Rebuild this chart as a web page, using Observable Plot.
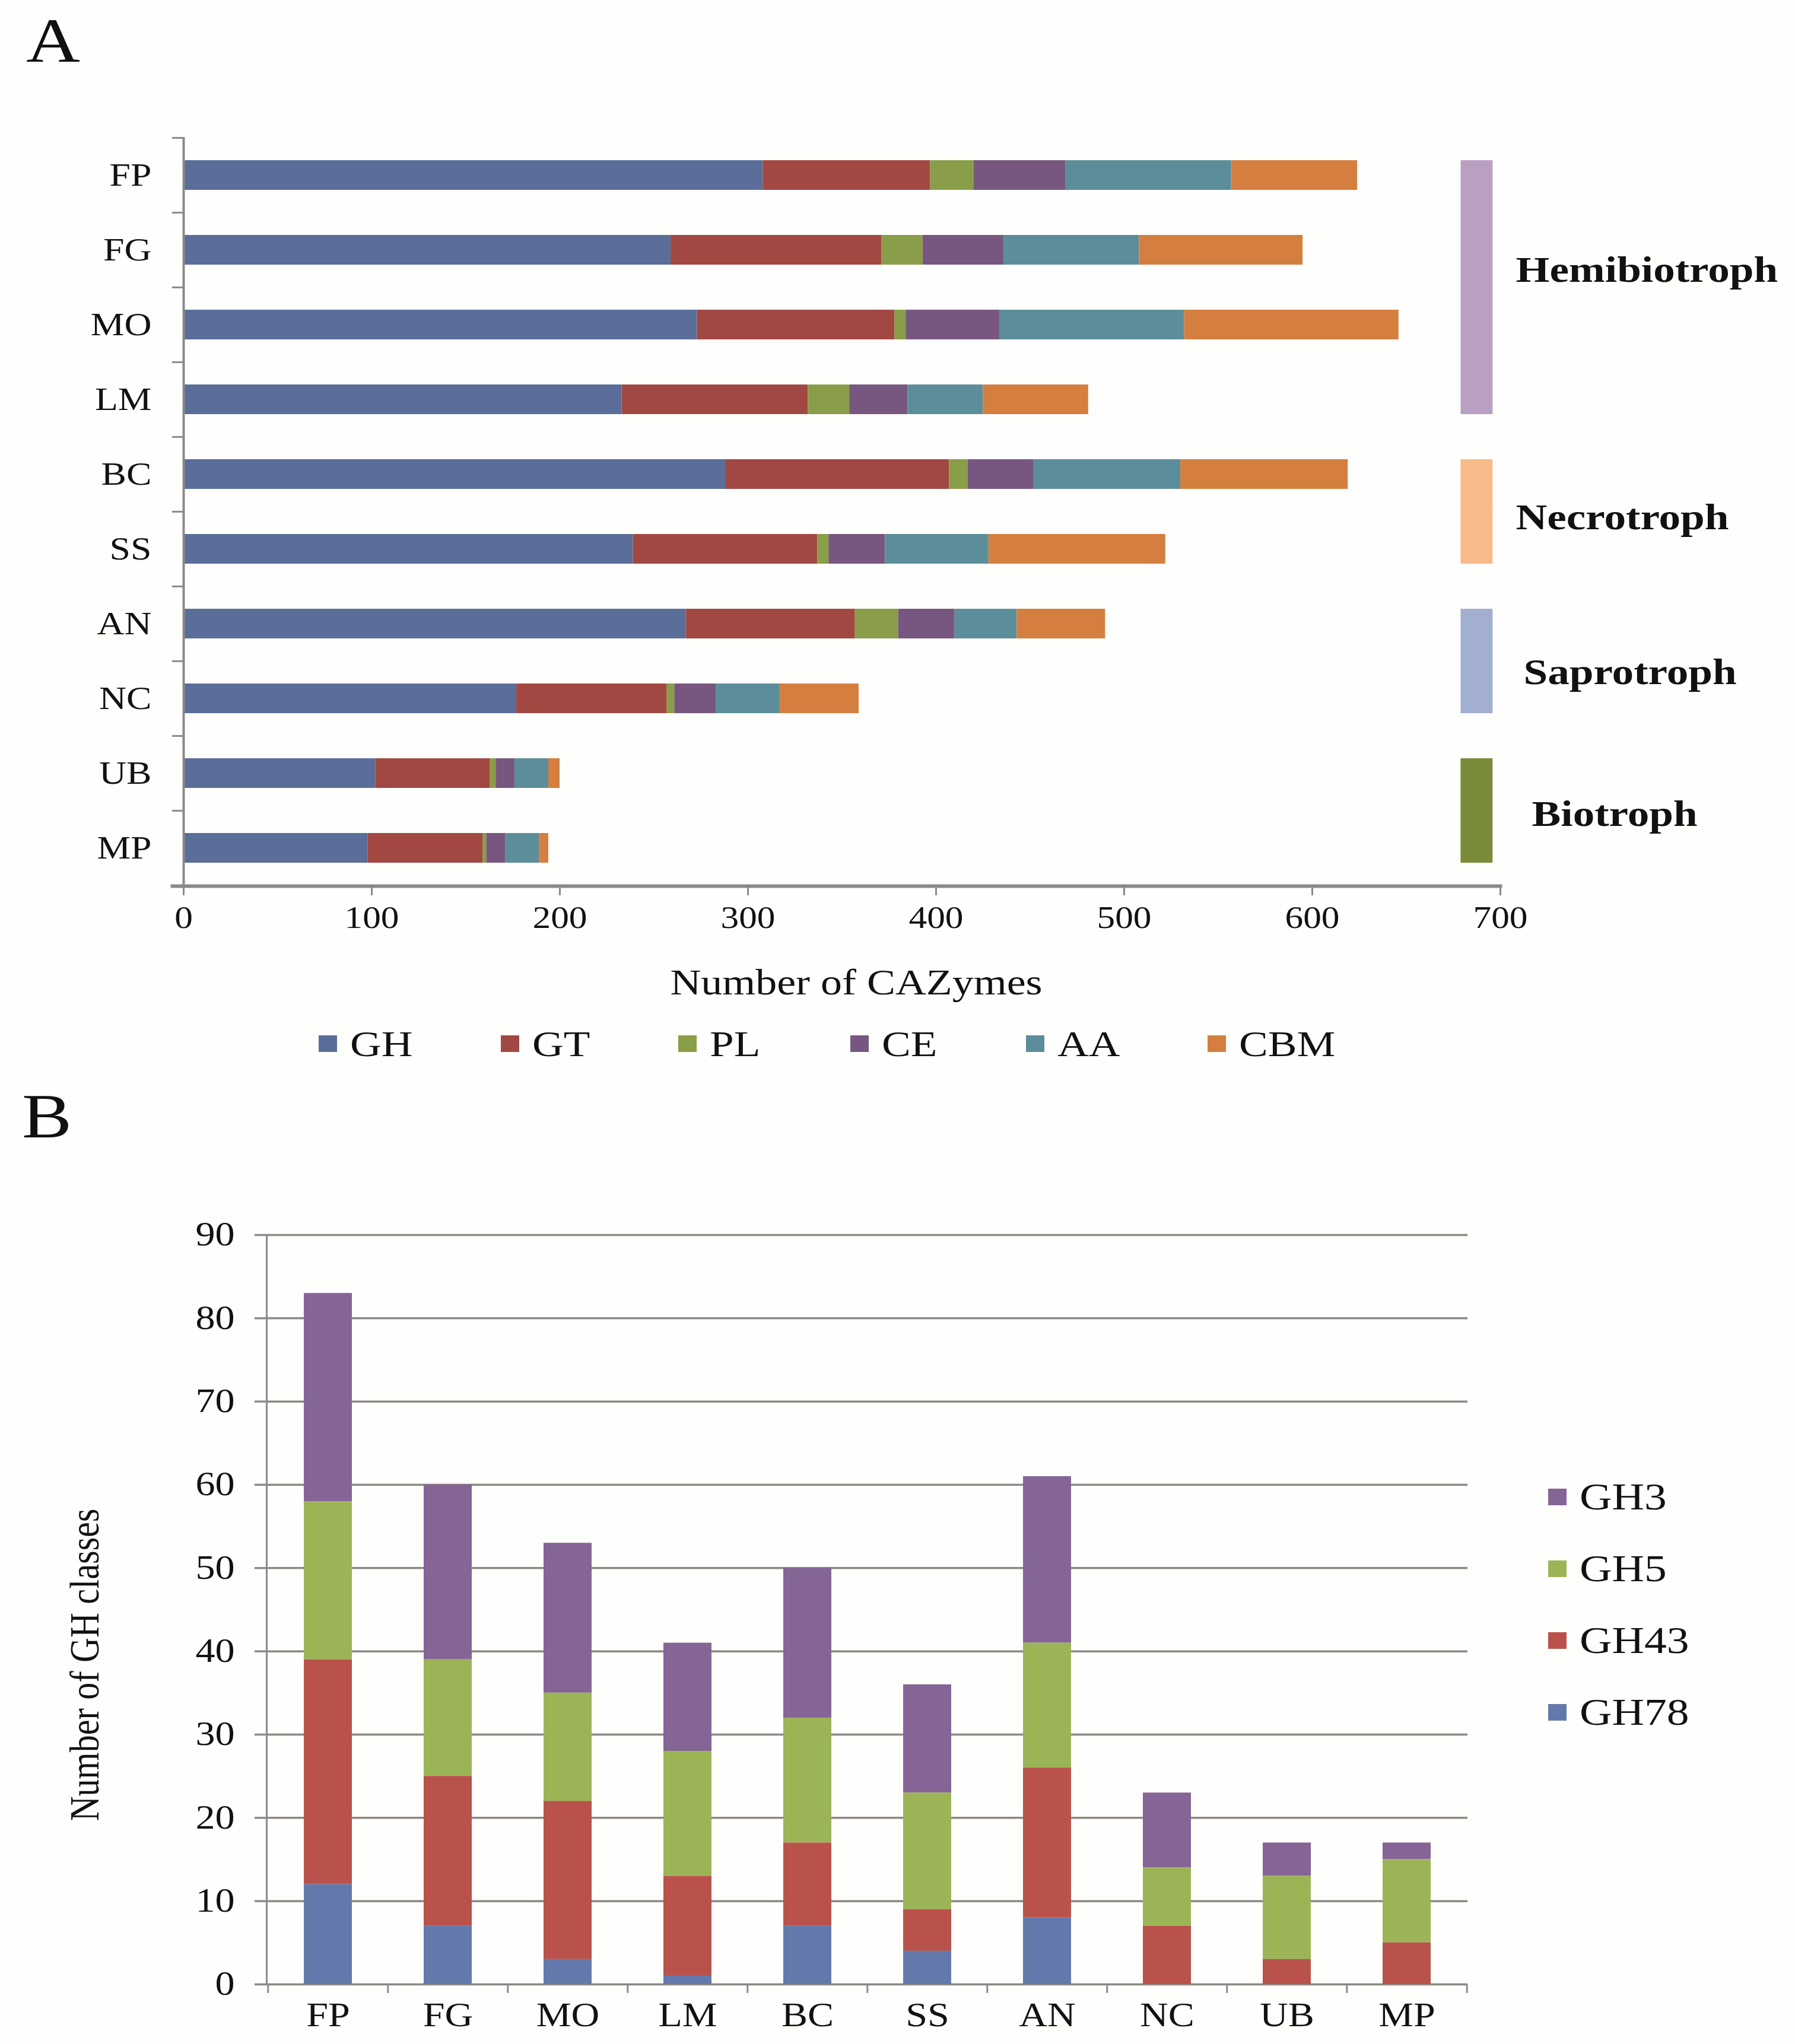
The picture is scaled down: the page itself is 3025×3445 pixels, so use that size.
<!DOCTYPE html>
<html><head><meta charset="utf-8">
<script src="https://cdn.jsdelivr.net/npm/d3@7"></script>
<script src="https://cdn.jsdelivr.net/npm/@observablehq/plot@0.6"></script>
<style>
html,body{margin:0;padding:0;background:#fefefc;}
#page{position:relative;width:3025px;height:3445px;background:#fefefc;font-family:"Liberation Serif","Times New Roman",serif;color:#111;overflow:hidden;}
#page svg{position:absolute;left:0;}
.abs{position:absolute;white-space:nowrap;line-height:1;}
.sx{display:inline-block;transform-origin:0 50%;transform:scaleX(1.18);}
.legA{position:absolute;left:537px;top:1728px;display:flex;align-items:center;font-size:62px;line-height:62px;}
.legA .item{display:flex;align-items:center;margin-right:164px;}
.sw{display:inline-block;width:31px;height:28px;margin-right:22px;}
.legB{position:absolute;left:2609px;top:2462px;font-size:64px;}
.legB .item{display:flex;align-items:center;height:121px;line-height:121px;}
</style></head><body><div id="page"></div>
<script>
// ---------- Panel A data ----------
const catsA = ["FP","FG","MO","LM","BC","SS","AN","NC","UB","MP"];
const seriesA = ["GH","GT","PL","CE","AA","CBM"];
const GH  = [308,259,273,233,288,239,267,177,102,98];
const GT  = [89,112,105,99,119,98,90,80,61,61];
const PL  = [23,22,6,22,10,6,23,4,3,2];
const CE  = [49,43,50,31,35,30,30,22,10,10];
const AA  = [88,72,98,40,78,55,33,34,18,18];
const CBM = [67,87,114,56,89,94,47,42,6,5];
const xTicksA = [0,100,200,300,400,500,600,700];
const groupNames = ["Hemibiotroph","Necrotroph","Saprotroph","Biotroph"];
const groupMembers = [["FP","FG","MO","LM"],["BC","SS"],["AN","NC"],["UB","MP"]];

// ---------- Panel B data ----------
const catsB = ["FP","FG","MO","LM","BC","SS","AN","NC","UB","MP"];
const seriesB = ["GH3","GH5","GH43","GH78"];
const GH3  = [25,21,18,13,18,13,20,9,4,2];
const GH5  = [19,14,13,15,15,14,15,7,10,10];
const GH43 = [27,18,19,12,10,5,18,7,3,5];
const GH78 = [12,7,3,1,7,4,8,0,0,0];
const yTicksB = [0,10,20,30,40,50,60,70,80,90];
const stackOrderB = ["GH78","GH43","GH5","GH3"];

// ---------- styles ----------
const colorsA = ["#5a6e99","#a24843","#8a9d48","#77577f","#5b8e9a","#d47f3f"];
const colorsB = ["#856496","#9bb556","#ba524c","#6479ab"];
const groupColors = ["#b9a0c3","#f8ba88","#a3afd0","#7a8b39"];
const groupBarX = [679, 696];
const groupLabelDx = [26, 26, 39, 53];
const groupLabelAdj = [-30, 10, 19, 6];
const axisGray = "#8a8a8a";
const gridGray = "#8c8884";
const textCol = "#111";
const font = "Liberation Serif";
const stretch = 1.18;

const page = document.getElementById("page");

// ---------- Panel A ----------
const A = {top:0, height:1640, mL:309, mR:497, mT:231, mB:147};
const stepA = (A.height - A.mT - A.mB) / catsA.length;
const valuesA = [GH, GT, PL, CE, AA, CBM];
const longA = catsA.flatMap((c,i) => seriesA.map((s,j) => ({cat:c, series:s, value: valuesA[j][i]})));
const halfGap = stepA*0.6/2 + 0.5;

const groupMarks = groupNames.flatMap((g, gi) => {
  const mem = groupMembers[gi];
  const rows = mem.map((c,k) => ({cat:c, pos: k===0 ? "first" : (k===mem.length-1 ? "last" : "mid")}));
  const bars = ["first","mid","last"].map(pos => Plot.barX(rows.filter(d => d.pos===pos), {
    y: "cat", x1: groupBarX[0], x2: groupBarX[1], fill: groupColors[gi],
    insetTop: pos==="first" ? 0 : -halfGap, insetBottom: pos==="last" ? 0 : -halfGap
  }));
  const label = Plot.text([g], {
    x: () => 700, y: () => mem[0], text: d => d,
    dx: groupLabelDx[gi], dy: (mem.length-1)*stepA/2 + groupLabelAdj[gi],
    textAnchor: "start", fontWeight: "bold", fontSize: 62, fill: textCol, fontFamily: font
  });
  return [...bars, label];
});

const plotA = Plot.plot({
  width: 3025, height: A.height,
  marginLeft: A.mL, marginRight: A.mR, marginTop: A.mT, marginBottom: A.mB,
  style: {background: "transparent", fontFamily: font, fontSize: "52px", color: textCol},
  x: {domain: [0,700], label: null},
  y: {domain: catsA, paddingInner: 0.6, paddingOuter: 0.3, align: 0.5, label: null},
  color: {domain: seriesA, range: colorsA},
  marks: [
    Plot.barX(longA, {y: "cat", x: "value", fill: "series", order: seriesA}),
    ...groupMarks,
    Plot.ruleX([0], {stroke: axisGray, strokeWidth: 4}),
    Plot.frame({anchor: "bottom", stroke: axisGray, strokeWidth: 6, insetLeft: -19}),
    Plot.axisX(xTicksA, {tickSize: 16, tickPadding: 18, fontSize: 52, stroke: axisGray, strokeWidth: 3, fill: textCol, label: null}),
    Plot.axisY(catsA, {tickSize: 0, tickPadding: 54, fontSize: 54, fill: textCol, label: null}),
    Plot.axisY(catsA, {tickSize: 19, dy: -stepA/2, tickFormat: () => "", stroke: axisGray, strokeWidth: 3, label: null})
  ]
});
plotA.style.top = A.top + "px";
page.appendChild(plotA);

// ---------- Panel B ----------
const B = {top:1950, height:1495, mL:449, mR:552, mT:131, mB:101};
const stepB = (3025 - B.mL - B.mR) / catsB.length;
const valuesB = {GH3, GH5, GH43, GH78};
const longB = catsB.flatMap((c,i) => seriesB.map(s => ({cat:c, series:s, value: valuesB[s][i]})));

const plotB = Plot.plot({
  width: 3025, height: B.height,
  marginLeft: B.mL, marginRight: B.mR, marginTop: B.mT, marginBottom: B.mB,
  style: {background: "transparent", fontFamily: font, fontSize: "56px", color: textCol},
  x: {domain: catsB, paddingInner: 0.6, paddingOuter: 0.3, align: 0.5, label: null},
  y: {domain: [0,90], label: null},
  color: {domain: seriesB, range: colorsB},
  marks: [
    Plot.ruleY(yTicksB, {stroke: gridGray, strokeWidth: 3.5}),
    Plot.barY(longB, {x: "cat", y: "value", fill: "series", order: stackOrderB}),
    Plot.frame({anchor: "left", stroke: axisGray, strokeWidth: 3}),
    Plot.axisY(yTicksB, {tickSize: 20, tickPadding: 34, fontSize: 56, stroke: axisGray, strokeWidth: 3.5, fill: textCol, label: null}),
    Plot.axisX(catsB, {tickSize: 0, tickPadding: 31, fontSize: 56, fill: textCol, label: null}),
    Plot.axisX(catsB, {tickSize: 15, dx: -stepB/2, tickFormat: () => "", stroke: axisGray, strokeWidth: 3, label: null}),
    Plot.axisX([catsB[catsB.length-1]], {tickSize: 15, dx: stepB/2, tickFormat: () => "", stroke: axisGray, strokeWidth: 3, label: null})
  ]
});
plotB.style.top = B.top + "px";
page.appendChild(plotB);

// horizontal stretch of SVG text (the reference's type is set wide)
function stretchSvgText(svg, k) {
  svg.querySelectorAll("text").forEach(t => {
    const spans = t.querySelectorAll("tspan");
    const els = spans.length ? Array.from(spans) : [t];
    els.forEach(el => {
      const len = el.getComputedTextLength();
      if (len > 0) {
        el.setAttribute("textLength", (len * k).toFixed(1));
        el.setAttribute("lengthAdjust", "spacingAndGlyphs");
      }
    });
  });
}
stretchSvgText(plotA, stretch);
stretchSvgText(plotB, stretch);

// ---------- HTML text: panel letters, titles, legends ----------
function addText(txt, css, innerCss) {
  const d = document.createElement("div");
  d.className = "abs";
  const s = document.createElement("span");
  s.textContent = txt;
  s.style.display = "inline-block";
  Object.assign(s.style, innerCss || {});
  d.appendChild(s);
  Object.assign(d.style, css);
  page.appendChild(d);
  return d;
}
addText("A", {left: "44px", top: "16px", fontSize: "105px"}, {transform: "scaleX(1.2)", transformOrigin: "0 50%"});
addText("B", {left: "37px", top: "1829px", fontSize: "105px"}, {transform: "scaleX(1.2)", transformOrigin: "0 50%"});
addText("Number of CAZymes", {left: "1443px", top: "1624px", fontSize: "62px", transform: "translateX(-50%)"}, {transform: "scaleX(1.16)", transformOrigin: "50% 50%"});
addText("Number of GH classes", {left: "143px", top: "2806px", fontSize: "58px", transform: "translate(-50%,-50%) rotate(-90deg) scaleY(1.2)"});

function buildLegend(cls, series, colors) {
  const leg = document.createElement("div");
  leg.className = cls;
  series.forEach((s,i) => {
    const it = document.createElement("div"); it.className = "item";
    const sw = document.createElement("span"); sw.className = "sw"; sw.style.background = colors[i];
    const t = document.createElement("span"); t.className = "sx"; t.textContent = s;
    it.appendChild(sw); it.appendChild(t); leg.appendChild(it);
  });
  page.appendChild(leg);
}
buildLegend("legA", seriesA, colorsA);
buildLegend("legB", seriesB, colorsB);
</script></body></html>
